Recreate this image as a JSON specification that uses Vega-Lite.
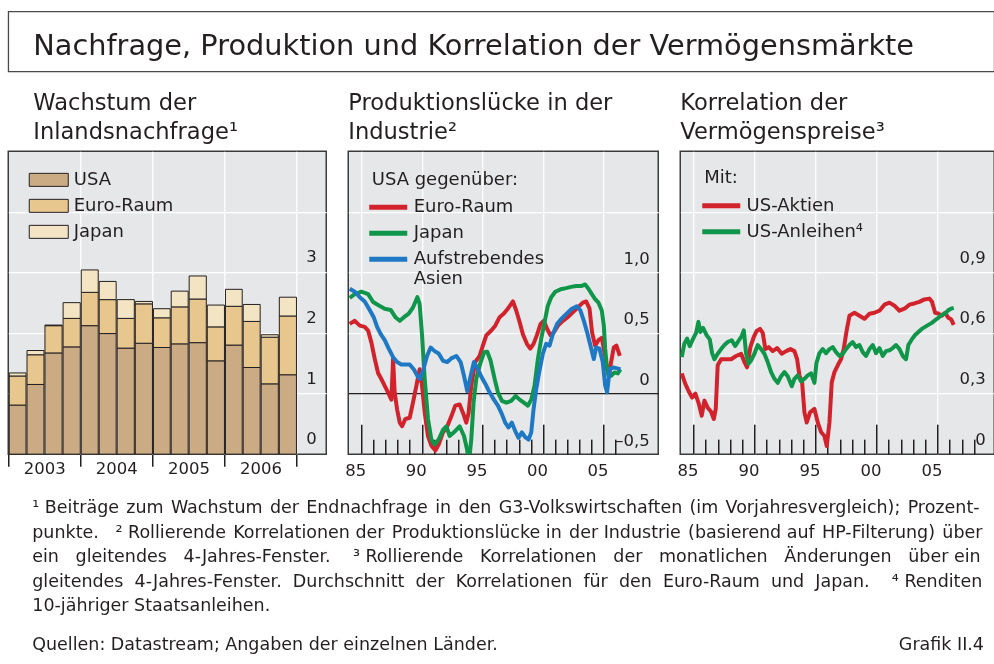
{
  "$schema": "https://vega.github.io/schema/vega-lite/v6.json",
  "padding": {"left": 6.25, "top": 10.35, "right": 0, "bottom": 0},
  "background": "white",
  "config": {
    "font": "DejaVu Sans",
    "view": {"fill": "#e6e7e8", "stroke": "#3c3c3c", "strokeWidth": 1.5},
    "axis": {"title": null, "domain": false, "labelFont": "DejaVu Sans", "labelFontSize": 16.5, "labelColor": "#231f20", "gridColor": "white", "gridWidth": 1.2, "tickColor": "#231f20", "tickWidth": 1.5, "labelFlush": false, "labelOverlap": false, "labelBound": false},
    "legend": {"padding": 0, "labelFont": "DejaVu Sans", "labelFontSize": 18, "labelColor": "#231f20", "titleFont": "DejaVu Sans", "titleFontSize": 18, "titleFontWeight": "normal", "titleColor": "#231f20", "rowPadding": 8, "titlePadding": 7.2},
    "title": {"font": "DejaVu Sans", "color": "#231f20", "fontWeight": "normal", "anchor": "start", "subtitleColor": "#231f20", "subtitleFont": "DejaVu Sans"}
  },
  "title": {"text": "Grafik II.4", "orient": "bottom", "anchor": "end", "fontSize": 17.5, "offset": -17.5, "dx": -11},
  "spacing": 18.8,
  "datasets": {
    "bars": [
      {"q": "2003-01-01", "r": "USA", "v": 0.81, "k": 1}, {"q": "2003-01-01", "r": "Euro-Raum", "v": 0.48, "k": 2}, {"q": "2003-01-01", "r": "Japan", "v": 0.05, "k": 3},
      {"q": "2003-04-01", "r": "USA", "v": 1.15, "k": 1}, {"q": "2003-04-01", "r": "Euro-Raum", "v": 0.49, "k": 2}, {"q": "2003-04-01", "r": "Japan", "v": 0.07, "k": 3},
      {"q": "2003-07-01", "r": "USA", "v": 1.67, "k": 1}, {"q": "2003-07-01", "r": "Euro-Raum", "v": 0.45, "k": 2}, {"q": "2003-07-01", "r": "Japan", "v": 0.01, "k": 3},
      {"q": "2003-10-01", "r": "USA", "v": 1.77, "k": 1}, {"q": "2003-10-01", "r": "Euro-Raum", "v": 0.47, "k": 2}, {"q": "2003-10-01", "r": "Japan", "v": 0.26, "k": 3},
      {"q": "2004-01-01", "r": "USA", "v": 2.12, "k": 1}, {"q": "2004-01-01", "r": "Euro-Raum", "v": 0.55, "k": 2}, {"q": "2004-01-01", "r": "Japan", "v": 0.37, "k": 3},
      {"q": "2004-04-01", "r": "USA", "v": 1.99, "k": 1}, {"q": "2004-04-01", "r": "Euro-Raum", "v": 0.56, "k": 2}, {"q": "2004-04-01", "r": "Japan", "v": 0.30, "k": 3},
      {"q": "2004-07-01", "r": "USA", "v": 1.75, "k": 1}, {"q": "2004-07-01", "r": "Euro-Raum", "v": 0.49, "k": 2}, {"q": "2004-07-01", "r": "Japan", "v": 0.31, "k": 3},
      {"q": "2004-10-01", "r": "USA", "v": 1.83, "k": 1}, {"q": "2004-10-01", "r": "Euro-Raum", "v": 0.65, "k": 2}, {"q": "2004-10-01", "r": "Japan", "v": 0.04, "k": 3},
      {"q": "2005-01-01", "r": "USA", "v": 1.76, "k": 1}, {"q": "2005-01-01", "r": "Euro-Raum", "v": 0.49, "k": 2}, {"q": "2005-01-01", "r": "Japan", "v": 0.15, "k": 3},
      {"q": "2005-04-01", "r": "USA", "v": 1.82, "k": 1}, {"q": "2005-04-01", "r": "Euro-Raum", "v": 0.61, "k": 2}, {"q": "2005-04-01", "r": "Japan", "v": 0.26, "k": 3},
      {"q": "2005-07-01", "r": "USA", "v": 1.84, "k": 1}, {"q": "2005-07-01", "r": "Euro-Raum", "v": 0.72, "k": 2}, {"q": "2005-07-01", "r": "Japan", "v": 0.38, "k": 3},
      {"q": "2005-10-01", "r": "USA", "v": 1.54, "k": 1}, {"q": "2005-10-01", "r": "Euro-Raum", "v": 0.56, "k": 2}, {"q": "2005-10-01", "r": "Japan", "v": 0.36, "k": 3},
      {"q": "2006-01-01", "r": "USA", "v": 1.80, "k": 1}, {"q": "2006-01-01", "r": "Euro-Raum", "v": 0.64, "k": 2}, {"q": "2006-01-01", "r": "Japan", "v": 0.28, "k": 3},
      {"q": "2006-04-01", "r": "USA", "v": 1.43, "k": 1}, {"q": "2006-04-01", "r": "Euro-Raum", "v": 0.76, "k": 2}, {"q": "2006-04-01", "r": "Japan", "v": 0.28, "k": 3},
      {"q": "2006-07-01", "r": "USA", "v": 1.16, "k": 1}, {"q": "2006-07-01", "r": "Euro-Raum", "v": 0.77, "k": 2}, {"q": "2006-07-01", "r": "Japan", "v": 0.04, "k": 3},
      {"q": "2006-10-01", "r": "USA", "v": 1.31, "k": 1}, {"q": "2006-10-01", "r": "Euro-Raum", "v": 0.97, "k": 2}, {"q": "2006-10-01", "r": "Japan", "v": 0.31, "k": 3}
    ],
    "gap": [
      {"s": "Euro-Raum", "t": 1985.05, "v": 0.575}, {"s": "Euro-Raum", "t": 1985.47, "v": 0.60}, {"s": "Euro-Raum", "t": 1985.88, "v": 0.56}, {"s": "Euro-Raum", "t": 1986.29, "v": 0.55}, {"s": "Euro-Raum", "t": 1986.57, "v": 0.52}, {"s": "Euro-Raum", "t": 1986.84, "v": 0.42}, {"s": "Euro-Raum", "t": 1987.12, "v": 0.285}, {"s": "Euro-Raum", "t": 1987.39, "v": 0.17}, {"s": "Euro-Raum", "t": 1987.66, "v": 0.12}, {"s": "Euro-Raum", "t": 1987.94, "v": 0.064}, {"s": "Euro-Raum", "t": 1988.21, "v": 0.01}, {"s": "Euro-Raum", "t": 1988.49, "v": -0.05}, {"s": "Euro-Raum", "t": 1988.63, "v": 0.285}, {"s": "Euro-Raum", "t": 1988.76, "v": 0.01}, {"s": "Euro-Raum", "t": 1988.96, "v": -0.13}, {"s": "Euro-Raum", "t": 1989.18, "v": -0.24}, {"s": "Euro-Raum", "t": 1989.37, "v": -0.27}, {"s": "Euro-Raum", "t": 1989.64, "v": -0.21}, {"s": "Euro-Raum", "t": 1990.0, "v": -0.2}, {"s": "Euro-Raum", "t": 1990.27, "v": -0.075}, {"s": "Euro-Raum", "t": 1990.55, "v": 0.064}, {"s": "Euro-Raum", "t": 1990.82, "v": 0.2}, {"s": "Euro-Raum", "t": 1991.02, "v": 0.064}, {"s": "Euro-Raum", "t": 1991.24, "v": -0.16}, {"s": "Euro-Raum", "t": 1991.51, "v": -0.35}, {"s": "Euro-Raum", "t": 1991.79, "v": -0.43}, {"s": "Euro-Raum", "t": 1992.12, "v": -0.47}, {"s": "Euro-Raum", "t": 1992.39, "v": -0.42}, {"s": "Euro-Raum", "t": 1992.75, "v": -0.32}, {"s": "Euro-Raum", "t": 1993.1, "v": -0.27}, {"s": "Euro-Raum", "t": 1993.43, "v": -0.19}, {"s": "Euro-Raum", "t": 1993.76, "v": -0.10}, {"s": "Euro-Raum", "t": 1994.12, "v": -0.09}, {"s": "Euro-Raum", "t": 1994.4, "v": -0.16}, {"s": "Euro-Raum", "t": 1994.67, "v": -0.24}, {"s": "Euro-Raum", "t": 1994.86, "v": -0.16}, {"s": "Euro-Raum", "t": 1995.08, "v": 0.064}, {"s": "Euro-Raum", "t": 1995.41, "v": 0.26}, {"s": "Euro-Raum", "t": 1995.77, "v": 0.31}, {"s": "Euro-Raum", "t": 1996.04, "v": 0.395}, {"s": "Euro-Raum", "t": 1996.32, "v": 0.48}, {"s": "Euro-Raum", "t": 1996.73, "v": 0.52}, {"s": "Euro-Raum", "t": 1997.06, "v": 0.56}, {"s": "Euro-Raum", "t": 1997.42, "v": 0.63}, {"s": "Euro-Raum", "t": 1997.77, "v": 0.66}, {"s": "Euro-Raum", "t": 1998.1, "v": 0.70}, {"s": "Euro-Raum", "t": 1998.52, "v": 0.76}, {"s": "Euro-Raum", "t": 1998.79, "v": 0.685}, {"s": "Euro-Raum", "t": 1999.07, "v": 0.59}, {"s": "Euro-Raum", "t": 1999.34, "v": 0.49}, {"s": "Euro-Raum", "t": 1999.67, "v": 0.41}, {"s": "Euro-Raum", "t": 1999.95, "v": 0.37}, {"s": "Euro-Raum", "t": 2000.22, "v": 0.41}, {"s": "Euro-Raum", "t": 2000.49, "v": 0.48}, {"s": "Euro-Raum", "t": 2000.8, "v": 0.575}, {"s": "Euro-Raum", "t": 2001.07, "v": 0.60}, {"s": "Euro-Raum", "t": 2001.35, "v": 0.53}, {"s": "Euro-Raum", "t": 2001.62, "v": 0.48}, {"s": "Euro-Raum", "t": 2001.9, "v": 0.505}, {"s": "Euro-Raum", "t": 2002.23, "v": 0.56}, {"s": "Euro-Raum", "t": 2002.64, "v": 0.60}, {"s": "Euro-Raum", "t": 2003.05, "v": 0.63}, {"s": "Euro-Raum", "t": 2003.46, "v": 0.67}, {"s": "Euro-Raum", "t": 2003.87, "v": 0.71}, {"s": "Euro-Raum", "t": 2004.29, "v": 0.75}, {"s": "Euro-Raum", "t": 2004.56, "v": 0.76}, {"s": "Euro-Raum", "t": 2004.84, "v": 0.70}, {"s": "Euro-Raum", "t": 2005.05, "v": 0.505}, {"s": "Euro-Raum", "t": 2005.3, "v": 0.395}, {"s": "Euro-Raum", "t": 2005.58, "v": 0.44}, {"s": "Euro-Raum", "t": 2005.85, "v": 0.46}, {"s": "Euro-Raum", "t": 2006.07, "v": 0.34}, {"s": "Euro-Raum", "t": 2006.29, "v": 0.20}, {"s": "Euro-Raum", "t": 2006.46, "v": 0.146}, {"s": "Euro-Raum", "t": 2006.62, "v": 0.26}, {"s": "Euro-Raum", "t": 2006.84, "v": 0.38}, {"s": "Euro-Raum", "t": 2007.06, "v": 0.395}, {"s": "Euro-Raum", "t": 2007.34, "v": 0.31},
      {"s": "Japan", "t": 1985.05, "v": 0.79}, {"s": "Japan", "t": 1985.47, "v": 0.82}, {"s": "Japan", "t": 1986.02, "v": 0.84}, {"s": "Japan", "t": 1986.57, "v": 0.82}, {"s": "Japan", "t": 1986.98, "v": 0.755}, {"s": "Japan", "t": 1987.39, "v": 0.73}, {"s": "Japan", "t": 1987.94, "v": 0.70}, {"s": "Japan", "t": 1988.43, "v": 0.69}, {"s": "Japan", "t": 1988.82, "v": 0.63}, {"s": "Japan", "t": 1989.18, "v": 0.60}, {"s": "Japan", "t": 1989.53, "v": 0.63}, {"s": "Japan", "t": 1989.92, "v": 0.66}, {"s": "Japan", "t": 1990.27, "v": 0.71}, {"s": "Japan", "t": 1990.63, "v": 0.795}, {"s": "Japan", "t": 1990.82, "v": 0.74}, {"s": "Japan", "t": 1991.02, "v": 0.48}, {"s": "Japan", "t": 1991.24, "v": 0.12}, {"s": "Japan", "t": 1991.51, "v": -0.21}, {"s": "Japan", "t": 1991.79, "v": -0.38}, {"s": "Japan", "t": 1992.06, "v": -0.42}, {"s": "Japan", "t": 1992.39, "v": -0.38}, {"s": "Japan", "t": 1992.75, "v": -0.30}, {"s": "Japan", "t": 1993.02, "v": -0.27}, {"s": "Japan", "t": 1993.3, "v": -0.35}, {"s": "Japan", "t": 1993.65, "v": -0.32}, {"s": "Japan", "t": 1994.12, "v": -0.27}, {"s": "Japan", "t": 1994.48, "v": -0.35}, {"s": "Japan", "t": 1994.73, "v": -0.46}, {"s": "Japan", "t": 1994.89, "v": -0.57}, {"s": "Japan", "t": 1995.08, "v": -0.38}, {"s": "Japan", "t": 1995.27, "v": -0.075}, {"s": "Japan", "t": 1995.49, "v": 0.12}, {"s": "Japan", "t": 1995.77, "v": 0.23}, {"s": "Japan", "t": 1996.13, "v": 0.34}, {"s": "Japan", "t": 1996.4, "v": 0.345}, {"s": "Japan", "t": 1996.68, "v": 0.27}, {"s": "Japan", "t": 1997.01, "v": 0.12}, {"s": "Japan", "t": 1997.28, "v": 0.01}, {"s": "Japan", "t": 1997.61, "v": -0.06}, {"s": "Japan", "t": 1997.97, "v": -0.075}, {"s": "Japan", "t": 1998.38, "v": -0.06}, {"s": "Japan", "t": 1998.74, "v": -0.02}, {"s": "Japan", "t": 1999.07, "v": -0.05}, {"s": "Japan", "t": 1999.42, "v": -0.075}, {"s": "Japan", "t": 1999.75, "v": -0.10}, {"s": "Japan", "t": 2000.03, "v": -0.05}, {"s": "Japan", "t": 2000.3, "v": 0.064}, {"s": "Japan", "t": 2000.58, "v": 0.285}, {"s": "Japan", "t": 2000.85, "v": 0.45}, {"s": "Japan", "t": 2001.13, "v": 0.59}, {"s": "Japan", "t": 2001.4, "v": 0.725}, {"s": "Japan", "t": 2001.68, "v": 0.795}, {"s": "Japan", "t": 2002.01, "v": 0.84}, {"s": "Japan", "t": 2002.45, "v": 0.86}, {"s": "Japan", "t": 2002.91, "v": 0.87}, {"s": "Japan", "t": 2003.32, "v": 0.88}, {"s": "Japan", "t": 2003.74, "v": 0.887}, {"s": "Japan", "t": 2004.15, "v": 0.887}, {"s": "Japan", "t": 2004.48, "v": 0.90}, {"s": "Japan", "t": 2004.75, "v": 0.865}, {"s": "Japan", "t": 2005.03, "v": 0.82}, {"s": "Japan", "t": 2005.3, "v": 0.78}, {"s": "Japan", "t": 2005.58, "v": 0.75}, {"s": "Japan", "t": 2005.85, "v": 0.685}, {"s": "Japan", "t": 2006.02, "v": 0.56}, {"s": "Japan", "t": 2006.13, "v": 0.37}, {"s": "Japan", "t": 2006.26, "v": 0.23}, {"s": "Japan", "t": 2006.4, "v": 0.146}, {"s": "Japan", "t": 2006.62, "v": 0.146}, {"s": "Japan", "t": 2006.9, "v": 0.174}, {"s": "Japan", "t": 2007.17, "v": 0.166}, {"s": "Japan", "t": 2007.39, "v": 0.20},
      {"s": "Aufstrebendes Asien", "t": 1985.05, "v": 0.865}, {"s": "Aufstrebendes Asien", "t": 1985.47, "v": 0.84}, {"s": "Aufstrebendes Asien", "t": 1985.88, "v": 0.795}, {"s": "Aufstrebendes Asien", "t": 1986.29, "v": 0.76}, {"s": "Aufstrebendes Asien", "t": 1986.7, "v": 0.69}, {"s": "Aufstrebendes Asien", "t": 1987.03, "v": 0.63}, {"s": "Aufstrebendes Asien", "t": 1987.31, "v": 0.55}, {"s": "Aufstrebendes Asien", "t": 1987.61, "v": 0.49}, {"s": "Aufstrebendes Asien", "t": 1987.94, "v": 0.44}, {"s": "Aufstrebendes Asien", "t": 1988.27, "v": 0.37}, {"s": "Aufstrebendes Asien", "t": 1988.63, "v": 0.30}, {"s": "Aufstrebendes Asien", "t": 1988.96, "v": 0.26}, {"s": "Aufstrebendes Asien", "t": 1989.31, "v": 0.24}, {"s": "Aufstrebendes Asien", "t": 1989.64, "v": 0.24}, {"s": "Aufstrebendes Asien", "t": 1990.0, "v": 0.24}, {"s": "Aufstrebendes Asien", "t": 1990.36, "v": 0.196}, {"s": "Aufstrebendes Asien", "t": 1990.63, "v": 0.146}, {"s": "Aufstrebendes Asien", "t": 1990.85, "v": 0.12}, {"s": "Aufstrebendes Asien", "t": 1991.13, "v": 0.20}, {"s": "Aufstrebendes Asien", "t": 1991.43, "v": 0.31}, {"s": "Aufstrebendes Asien", "t": 1991.73, "v": 0.38}, {"s": "Aufstrebendes Asien", "t": 1992.06, "v": 0.35}, {"s": "Aufstrebendes Asien", "t": 1992.39, "v": 0.33}, {"s": "Aufstrebendes Asien", "t": 1992.75, "v": 0.27}, {"s": "Aufstrebendes Asien", "t": 1993.1, "v": 0.26}, {"s": "Aufstrebendes Asien", "t": 1993.43, "v": 0.29}, {"s": "Aufstrebendes Asien", "t": 1993.85, "v": 0.31}, {"s": "Aufstrebendes Asien", "t": 1994.2, "v": 0.26}, {"s": "Aufstrebendes Asien", "t": 1994.48, "v": 0.146}, {"s": "Aufstrebendes Asien", "t": 1994.75, "v": 0.02}, {"s": "Aufstrebendes Asien", "t": 1995.03, "v": 0.146}, {"s": "Aufstrebendes Asien", "t": 1995.3, "v": 0.26}, {"s": "Aufstrebendes Asien", "t": 1995.63, "v": 0.20}, {"s": "Aufstrebendes Asien", "t": 1995.96, "v": 0.13}, {"s": "Aufstrebendes Asien", "t": 1996.26, "v": 0.077}, {"s": "Aufstrebendes Asien", "t": 1996.59, "v": 0.01}, {"s": "Aufstrebendes Asien", "t": 1996.95, "v": -0.05}, {"s": "Aufstrebendes Asien", "t": 1997.28, "v": -0.10}, {"s": "Aufstrebendes Asien", "t": 1997.61, "v": -0.17}, {"s": "Aufstrebendes Asien", "t": 1997.88, "v": -0.24}, {"s": "Aufstrebendes Asien", "t": 1998.16, "v": -0.28}, {"s": "Aufstrebendes Asien", "t": 1998.43, "v": -0.24}, {"s": "Aufstrebendes Asien", "t": 1998.71, "v": -0.31}, {"s": "Aufstrebendes Asien", "t": 1998.98, "v": -0.365}, {"s": "Aufstrebendes Asien", "t": 1999.26, "v": -0.32}, {"s": "Aufstrebendes Asien", "t": 1999.53, "v": -0.36}, {"s": "Aufstrebendes Asien", "t": 1999.81, "v": -0.38}, {"s": "Aufstrebendes Asien", "t": 2000.03, "v": -0.32}, {"s": "Aufstrebendes Asien", "t": 2000.22, "v": -0.13}, {"s": "Aufstrebendes Asien", "t": 2000.44, "v": 0.036}, {"s": "Aufstrebendes Asien", "t": 2000.71, "v": 0.19}, {"s": "Aufstrebendes Asien", "t": 2000.99, "v": 0.33}, {"s": "Aufstrebendes Asien", "t": 2001.26, "v": 0.41}, {"s": "Aufstrebendes Asien", "t": 2001.54, "v": 0.395}, {"s": "Aufstrebendes Asien", "t": 2001.81, "v": 0.49}, {"s": "Aufstrebendes Asien", "t": 2002.17, "v": 0.575}, {"s": "Aufstrebendes Asien", "t": 2002.55, "v": 0.62}, {"s": "Aufstrebendes Asien", "t": 2002.97, "v": 0.66}, {"s": "Aufstrebendes Asien", "t": 2003.38, "v": 0.70}, {"s": "Aufstrebendes Asien", "t": 2003.79, "v": 0.72}, {"s": "Aufstrebendes Asien", "t": 2004.09, "v": 0.685}, {"s": "Aufstrebendes Asien", "t": 2004.37, "v": 0.60}, {"s": "Aufstrebendes Asien", "t": 2004.64, "v": 0.505}, {"s": "Aufstrebendes Asien", "t": 2004.92, "v": 0.395}, {"s": "Aufstrebendes Asien", "t": 2005.19, "v": 0.285}, {"s": "Aufstrebendes Asien", "t": 2005.38, "v": 0.38}, {"s": "Aufstrebendes Asien", "t": 2005.66, "v": 0.37}, {"s": "Aufstrebendes Asien", "t": 2005.93, "v": 0.26}, {"s": "Aufstrebendes Asien", "t": 2006.13, "v": 0.064}, {"s": "Aufstrebendes Asien", "t": 2006.29, "v": 0.01}, {"s": "Aufstrebendes Asien", "t": 2006.51, "v": 0.20}, {"s": "Aufstrebendes Asien", "t": 2006.79, "v": 0.215}, {"s": "Aufstrebendes Asien", "t": 2007.06, "v": 0.21}, {"s": "Aufstrebendes Asien", "t": 2007.39, "v": 0.20}
    ],
    "corr": [
      {"s": "US-Aktien", "t": 1985.04, "v": 0.40}, {"s": "US-Aktien", "t": 1985.32, "v": 0.35}, {"s": "US-Aktien", "t": 1985.62, "v": 0.31}, {"s": "US-Aktien", "t": 1985.89, "v": 0.28}, {"s": "US-Aktien", "t": 1986.16, "v": 0.30}, {"s": "US-Aktien", "t": 1986.44, "v": 0.25}, {"s": "US-Aktien", "t": 1986.68, "v": 0.19}, {"s": "US-Aktien", "t": 1986.9, "v": 0.265}, {"s": "US-Aktien", "t": 1987.17, "v": 0.23}, {"s": "US-Aktien", "t": 1987.45, "v": 0.21}, {"s": "US-Aktien", "t": 1987.67, "v": 0.174}, {"s": "US-Aktien", "t": 1987.83, "v": 0.224}, {"s": "US-Aktien", "t": 1987.99, "v": 0.44}, {"s": "US-Aktien", "t": 1988.27, "v": 0.47}, {"s": "US-Aktien", "t": 1988.68, "v": 0.47}, {"s": "US-Aktien", "t": 1989.09, "v": 0.47}, {"s": "US-Aktien", "t": 1989.5, "v": 0.486}, {"s": "US-Aktien", "t": 1989.91, "v": 0.497}, {"s": "US-Aktien", "t": 1990.18, "v": 0.456}, {"s": "US-Aktien", "t": 1990.4, "v": 0.43}, {"s": "US-Aktien", "t": 1990.67, "v": 0.53}, {"s": "US-Aktien", "t": 1990.95, "v": 0.58}, {"s": "US-Aktien", "t": 1991.19, "v": 0.61}, {"s": "US-Aktien", "t": 1991.46, "v": 0.62}, {"s": "US-Aktien", "t": 1991.68, "v": 0.60}, {"s": "US-Aktien", "t": 1991.9, "v": 0.52}, {"s": "US-Aktien", "t": 1992.17, "v": 0.53}, {"s": "US-Aktien", "t": 1992.5, "v": 0.51}, {"s": "US-Aktien", "t": 1992.86, "v": 0.525}, {"s": "US-Aktien", "t": 1993.24, "v": 0.497}, {"s": "US-Aktien", "t": 1993.6, "v": 0.51}, {"s": "US-Aktien", "t": 1993.95, "v": 0.52}, {"s": "US-Aktien", "t": 1994.28, "v": 0.51}, {"s": "US-Aktien", "t": 1994.5, "v": 0.47}, {"s": "US-Aktien", "t": 1994.69, "v": 0.39}, {"s": "US-Aktien", "t": 1994.91, "v": 0.356}, {"s": "US-Aktien", "t": 1995.1, "v": 0.207}, {"s": "US-Aktien", "t": 1995.29, "v": 0.157}, {"s": "US-Aktien", "t": 1995.56, "v": 0.207}, {"s": "US-Aktien", "t": 1995.92, "v": 0.224}, {"s": "US-Aktien", "t": 1996.19, "v": 0.157}, {"s": "US-Aktien", "t": 1996.46, "v": 0.11}, {"s": "US-Aktien", "t": 1996.74, "v": 0.09}, {"s": "US-Aktien", "t": 1996.93, "v": 0.04}, {"s": "US-Aktien", "t": 1997.15, "v": 0.157}, {"s": "US-Aktien", "t": 1997.34, "v": 0.356}, {"s": "US-Aktien", "t": 1997.56, "v": 0.406}, {"s": "US-Aktien", "t": 1997.83, "v": 0.44}, {"s": "US-Aktien", "t": 1998.1, "v": 0.47}, {"s": "US-Aktien", "t": 1998.32, "v": 0.52}, {"s": "US-Aktien", "t": 1998.54, "v": 0.605}, {"s": "US-Aktien", "t": 1998.79, "v": 0.685}, {"s": "US-Aktien", "t": 1999.2, "v": 0.70}, {"s": "US-Aktien", "t": 1999.61, "v": 0.685}, {"s": "US-Aktien", "t": 2000.02, "v": 0.67}, {"s": "US-Aktien", "t": 2000.43, "v": 0.695}, {"s": "US-Aktien", "t": 2000.84, "v": 0.70}, {"s": "US-Aktien", "t": 2001.25, "v": 0.71}, {"s": "US-Aktien", "t": 2001.66, "v": 0.74}, {"s": "US-Aktien", "t": 2002.07, "v": 0.75}, {"s": "US-Aktien", "t": 2002.48, "v": 0.735}, {"s": "US-Aktien", "t": 2002.89, "v": 0.71}, {"s": "US-Aktien", "t": 2003.3, "v": 0.72}, {"s": "US-Aktien", "t": 2003.7, "v": 0.74}, {"s": "US-Aktien", "t": 2004.11, "v": 0.746}, {"s": "US-Aktien", "t": 2004.52, "v": 0.754}, {"s": "US-Aktien", "t": 2004.93, "v": 0.766}, {"s": "US-Aktien", "t": 2005.34, "v": 0.77}, {"s": "US-Aktien", "t": 2005.56, "v": 0.754}, {"s": "US-Aktien", "t": 2005.81, "v": 0.70}, {"s": "US-Aktien", "t": 2006.08, "v": 0.696}, {"s": "US-Aktien", "t": 2006.36, "v": 0.685}, {"s": "US-Aktien", "t": 2006.63, "v": 0.70}, {"s": "US-Aktien", "t": 2006.9, "v": 0.675}, {"s": "US-Aktien", "t": 2007.12, "v": 0.668}, {"s": "US-Aktien", "t": 2007.34, "v": 0.64},
      {"s": "US-Anleihen⁴", "t": 1985.04, "v": 0.48}, {"s": "US-Anleihen⁴", "t": 1985.26, "v": 0.547}, {"s": "US-Anleihen⁴", "t": 1985.48, "v": 0.572}, {"s": "US-Anleihen⁴", "t": 1985.7, "v": 0.535}, {"s": "US-Anleihen⁴", "t": 1985.95, "v": 0.568}, {"s": "US-Anleihen⁴", "t": 1986.22, "v": 0.60}, {"s": "US-Anleihen⁴", "t": 1986.41, "v": 0.655}, {"s": "US-Anleihen⁴", "t": 1986.57, "v": 0.605}, {"s": "US-Anleihen⁴", "t": 1986.79, "v": 0.625}, {"s": "US-Anleihen⁴", "t": 1987.07, "v": 0.59}, {"s": "US-Anleihen⁴", "t": 1987.34, "v": 0.568}, {"s": "US-Anleihen⁴", "t": 1987.53, "v": 0.50}, {"s": "US-Anleihen⁴", "t": 1987.72, "v": 0.47}, {"s": "US-Anleihen⁴", "t": 1987.99, "v": 0.497}, {"s": "US-Anleihen⁴", "t": 1988.27, "v": 0.52}, {"s": "US-Anleihen⁴", "t": 1988.54, "v": 0.54}, {"s": "US-Anleihen⁴", "t": 1988.81, "v": 0.555}, {"s": "US-Anleihen⁴", "t": 1989.14, "v": 0.564}, {"s": "US-Anleihen⁴", "t": 1989.42, "v": 0.535}, {"s": "US-Anleihen⁴", "t": 1989.69, "v": 0.56}, {"s": "US-Anleihen⁴", "t": 1989.96, "v": 0.585}, {"s": "US-Anleihen⁴", "t": 1990.13, "v": 0.613}, {"s": "US-Anleihen⁴", "t": 1990.32, "v": 0.497}, {"s": "US-Anleihen⁴", "t": 1990.51, "v": 0.447}, {"s": "US-Anleihen⁴", "t": 1990.73, "v": 0.464}, {"s": "US-Anleihen⁴", "t": 1991.0, "v": 0.497}, {"s": "US-Anleihen⁴", "t": 1991.27, "v": 0.54}, {"s": "US-Anleihen⁴", "t": 1991.55, "v": 0.52}, {"s": "US-Anleihen⁴", "t": 1991.82, "v": 0.497}, {"s": "US-Anleihen⁴", "t": 1992.09, "v": 0.456}, {"s": "US-Anleihen⁴", "t": 1992.37, "v": 0.406}, {"s": "US-Anleihen⁴", "t": 1992.64, "v": 0.373}, {"s": "US-Anleihen⁴", "t": 1992.91, "v": 0.353}, {"s": "US-Anleihen⁴", "t": 1993.19, "v": 0.386}, {"s": "US-Anleihen⁴", "t": 1993.46, "v": 0.406}, {"s": "US-Anleihen⁴", "t": 1993.73, "v": 0.386}, {"s": "US-Anleihen⁴", "t": 1994.06, "v": 0.336}, {"s": "US-Anleihen⁴", "t": 1994.28, "v": 0.373}, {"s": "US-Anleihen⁴", "t": 1994.55, "v": 0.39}, {"s": "US-Anleihen⁴", "t": 1994.83, "v": 0.36}, {"s": "US-Anleihen⁴", "t": 1995.1, "v": 0.373}, {"s": "US-Anleihen⁴", "t": 1995.37, "v": 0.39}, {"s": "US-Anleihen⁴", "t": 1995.64, "v": 0.40}, {"s": "US-Anleihen⁴", "t": 1995.92, "v": 0.353}, {"s": "US-Anleihen⁴", "t": 1996.08, "v": 0.45}, {"s": "US-Anleihen⁴", "t": 1996.33, "v": 0.50}, {"s": "US-Anleihen⁴", "t": 1996.6, "v": 0.52}, {"s": "US-Anleihen⁴", "t": 1996.87, "v": 0.50}, {"s": "US-Anleihen⁴", "t": 1997.15, "v": 0.52}, {"s": "US-Anleihen⁴", "t": 1997.42, "v": 0.53}, {"s": "US-Anleihen⁴", "t": 1997.69, "v": 0.505}, {"s": "US-Anleihen⁴", "t": 1997.97, "v": 0.486}, {"s": "US-Anleihen⁴", "t": 1998.24, "v": 0.497}, {"s": "US-Anleihen⁴", "t": 1998.51, "v": 0.52}, {"s": "US-Anleihen⁴", "t": 1998.79, "v": 0.54}, {"s": "US-Anleihen⁴", "t": 1999.06, "v": 0.555}, {"s": "US-Anleihen⁴", "t": 1999.33, "v": 0.53}, {"s": "US-Anleihen⁴", "t": 1999.61, "v": 0.54}, {"s": "US-Anleihen⁴", "t": 1999.88, "v": 0.505}, {"s": "US-Anleihen⁴", "t": 2000.15, "v": 0.486}, {"s": "US-Anleihen⁴", "t": 2000.43, "v": 0.52}, {"s": "US-Anleihen⁴", "t": 2000.7, "v": 0.54}, {"s": "US-Anleihen⁴", "t": 2000.97, "v": 0.50}, {"s": "US-Anleihen⁴", "t": 2001.25, "v": 0.525}, {"s": "US-Anleihen⁴", "t": 2001.52, "v": 0.486}, {"s": "US-Anleihen⁴", "t": 2001.79, "v": 0.51}, {"s": "US-Anleihen⁴", "t": 2002.07, "v": 0.514}, {"s": "US-Anleihen⁴", "t": 2002.34, "v": 0.525}, {"s": "US-Anleihen⁴", "t": 2002.61, "v": 0.54}, {"s": "US-Anleihen⁴", "t": 2002.89, "v": 0.52}, {"s": "US-Anleihen⁴", "t": 2003.16, "v": 0.486}, {"s": "US-Anleihen⁴", "t": 2003.43, "v": 0.47}, {"s": "US-Anleihen⁴", "t": 2003.62, "v": 0.54}, {"s": "US-Anleihen⁴", "t": 2003.9, "v": 0.568}, {"s": "US-Anleihen⁴", "t": 2004.17, "v": 0.59}, {"s": "US-Anleihen⁴", "t": 2004.44, "v": 0.605}, {"s": "US-Anleihen⁴", "t": 2004.72, "v": 0.62}, {"s": "US-Anleihen⁴", "t": 2004.99, "v": 0.63}, {"s": "US-Anleihen⁴", "t": 2005.26, "v": 0.64}, {"s": "US-Anleihen⁴", "t": 2005.54, "v": 0.65}, {"s": "US-Anleihen⁴", "t": 2005.81, "v": 0.663}, {"s": "US-Anleihen⁴", "t": 2006.08, "v": 0.675}, {"s": "US-Anleihen⁴", "t": 2006.36, "v": 0.69}, {"s": "US-Anleihen⁴", "t": 2006.63, "v": 0.696}, {"s": "US-Anleihen⁴", "t": 2006.9, "v": 0.713}, {"s": "US-Anleihen⁴", "t": 2007.12, "v": 0.72}, {"s": "US-Anleihen⁴", "t": 2007.34, "v": 0.724}
    ]
  },
  "vconcat": [
    {
      "width": 986,
      "height": 60,
      "view": {"fill": "white", "stroke": "#4a4a4a", "strokeWidth": 1.3},
      "title": {"text": "Nachfrage, Produktion und Korrelation der Vermögensmärkte", "fontSize": 28.8, "anchor": "start", "frame": "group", "offset": -49, "dx": 25},
      "data": {"values": [{}]},
      "mark": {"type": "text"},
      "encoding": {"text": {"value": ""}}
    },
    {
      "spacing": 22,
      "bounds": "flush",
      "resolve": {"scale": {"color": "independent"}, "legend": {"color": "independent"}},
      "title": {
        "text": [
          "¹ Beiträge \u200azum \u200aWachstum \u200ader \u200aEndnachfrage \u200ain \u200aden \u200aG3-Volkswirtschaften \u200a(im \u200aVorjahresvergleich); \u200aProzent-",
          "punkte.\u00a0\u00a0\u00a0² Rollierende \u200aKorrelationen der \u200aProduktionslücke in \u200ader Industrie \u200a(basierend auf \u200aHP-Filterung) \u200aüber",
          "ein\u00a0\u00a0 gleitendes\u00a0\u00a0 4-Jahres-Fenster.\u00a0\u00a0\u00a0\u00a0³ Rollierende\u00a0\u00a0 Korrelationen\u00a0\u00a0 der\u00a0\u00a0 monatlichen\u00a0\u00a0 Änderungen\u00a0\u00a0 über ein",
          "gleitendes\u00a0 4-Jahres-Fenster.\u00a0 Durchschnitt\u00a0 der\u00a0 Korrelationen\u00a0 für\u00a0 den\u00a0 Euro-Raum\u00a0 und\u00a0 Japan.\u00a0\u00a0\u00a0\u00a0⁴ Renditen",
          "10-jähriger Staatsanleihen."
        ],
        "subtitle": "Quellen: Datastream; Angaben der einzelnen Länder.",
        "orient": "bottom", "anchor": "start", "frame": "group",
        "fontSize": 17.5, "lineHeight": 24.5, "subtitleFontSize": 17.5, "subtitlePadding": 21.5,
        "offset": 4, "dx": 24
      },
      "hconcat": [
        {
          "width": 318,
          "height": 303,
          "title": {"text": ["Wachstum der", "Inlandsnachfrage¹"], "fontSize": 22.6, "lineHeight": 28.4, "anchor": "start", "frame": "group", "offset": 7.8, "dx": 25},
          "data": {"name": "bars"},
          "mark": {"type": "bar", "stroke": "#231f20", "strokeWidth": 1, "width": {"band": 1}},
          "encoding": {
            "x": {
              "field": "q", "type": "temporal", "timeUnit": "utcyearquarter",
              "scale": {"type": "utc", "domain": [{"year": 2003, "month": 1, "date": 1, "utc": true}, {"year": 2007, "month": 6, "date": 1, "utc": true}]},
              "axis": {
                "values": [{"year": 2003, "month": 1, "date": 1, "utc": true}, {"year": 2004, "month": 1, "date": 1, "utc": true}, {"year": 2005, "month": 1, "date": 1, "utc": true}, {"year": 2006, "month": 1, "date": 1, "utc": true}, {"year": 2007, "month": 1, "date": 1, "utc": true}],
                "labelExpr": "utcyear(datum.value) < 2007 ? utcFormat(datum.value, '%Y') : ''",
                "labelOffset": 36, "labelAlign": "center", "tickSize": 12, "labelPadding": -5.3,
                "gridOpacity": {"condition": {"test": "utcyear(datum.value) == 2003", "value": 0}, "value": 1}
              }
            },
            "y": {
              "field": "v", "type": "quantitative", "stack": "zero",
              "scale": {"domain": [0, 5], "nice": false},
              "axis": {
                "orient": "right", "values": [0, 1, 2, 3, 4], "ticks": false, "labelPadding": -10, "labelAlign": "right", "labelBaseline": "middle", "labelOffset": -15.5,
                "labelExpr": "datum.value > 3 ? '' : datum.label",
                "gridOpacity": {"condition": {"test": "datum.value == 0", "value": 0}, "value": 1}
              }
            },
            "color": {
              "field": "r", "type": "nominal",
              "scale": {"domain": ["USA", "Euro-Raum", "Japan"], "range": ["#cbab84", "#e7c78e", "#f3e5c3"]},
              "legend": {"title": null, "orient": "none", "legendX": 22, "legendY": 19.7, "symbolType": "M-3,-1H3V1H-3Z", "symbolSize": 169, "symbolStrokeColor": "#231f20", "symbolStrokeWidth": 1, "symbolOffset": 9.5, "labelOffset": 16}
            },
            "order": {"field": "k", "type": "quantitative"}
          }
        },
        {
          "width": 310,
          "height": 303,
          "title": {"text": ["Produktionslücke in der", "Industrie²"], "fontSize": 22.6, "lineHeight": 28.4, "anchor": "start", "frame": "group", "offset": 7.8},
          "data": {"name": "gap"},
          "mark": {"type": "line", "strokeWidth": 4, "clip": true, "blend": "multiply", "strokeJoin": "round"},
          "encoding": {
            "x": {
              "field": "t", "type": "quantitative",
              "scale": {"domain": [1984.93, 2010.51], "nice": false, "zero": false},
              "axis": {
                "values": [1986, 1987, 1988, 1989, 1990, 1991, 1992, 1993, 1994, 1995, 1996, 1997, 1998, 1999, 2000, 2001, 2002, 2003, 2004, 2005, 2006, 2007],
                "tickSize": {"condition": {"test": "(datum.value - 1986) % 5 == 0", "value": -30}, "value": -15},
                "labelPadding": 38.7, "labelOffset": -6, "labelAlign": "center",
                "labelExpr": "(datum.value - 1986) % 5 == 0 ? slice(toString(datum.value - 1), 2) : ''",
                "gridOpacity": {"condition": {"test": "(datum.value - 1986) % 5 == 0", "value": 1}, "value": 0}
              }
            },
            "y": {
              "field": "v", "type": "quantitative",
              "scale": {"domain": [-0.5, 2.0], "nice": false, "zero": false},
              "axis": {
                "orient": "right", "values": [-0.5, 0, 0.5, 1, 1.5], "ticks": false, "labelPadding": -9, "labelAlign": "right", "labelBaseline": "middle", "labelOffset": -14,
                "labelExpr": "datum.value == -0.5 ? '–0,5' : datum.value == 0 ? '0' : datum.value == 0.5 ? '0,5' : datum.value == 1 ? '1,0' : ''",
                "gridOpacity": {"condition": {"test": "datum.value == -0.5", "value": 0}, "value": 1},
                "gridColor": {"condition": {"test": "datum.value == 0", "value": "#231f20"}, "value": "white"},
                "gridWidth": {"condition": {"test": "datum.value == 0", "value": 1.3}, "value": 1.2}
              }
            },
            "color": {
              "field": "s", "type": "nominal",
              "scale": {"domain": ["Euro-Raum", "Japan", "Aufstrebendes Asien"], "range": ["#d2232d", "#10964a", "#1f78c4"]},
              "legend": {"title": "USA gegenüber:", "orient": "none", "legendX": 23.5, "legendY": 20.3, "titlePadding": 8.7, "rowPadding": 6, "symbolType": "M-3.8,0H3.8", "symbolSize": 100, "symbolStrokeWidth": 5, "symbolOffset": 7.5, "labelOffset": 16.5,
                "labelExpr": "datum.label == 'Aufstrebendes Asien' ? ['Aufstrebendes', 'Asien'] : datum.label"}
            }
          }
        },
        {
          "width": 314,
          "height": 303,
          "title": {"text": ["Korrelation der", "Vermögenspreise³"], "fontSize": 22.6, "lineHeight": 28.4, "anchor": "start", "frame": "group", "offset": 7.8},
          "data": {"name": "corr"},
          "mark": {"type": "line", "strokeWidth": 4, "clip": true, "blend": "multiply", "strokeJoin": "round"},
          "encoding": {
            "x": {
              "field": "t", "type": "quantitative",
              "scale": {"domain": [1984.92, 2010.66], "nice": false, "zero": false},
              "axis": {
                "values": [1986, 1987, 1988, 1989, 1990, 1991, 1992, 1993, 1994, 1995, 1996, 1997, 1998, 1999, 2000, 2001, 2002, 2003, 2004, 2005, 2006, 2007, 2008, 2009],
                "tickSize": {"condition": {"test": "(datum.value - 1986) % 5 == 0", "value": -30}, "value": -15},
                "labelPadding": 38.7, "labelOffset": -6, "labelAlign": "center",
                "labelExpr": "(datum.value - 1986) % 5 == 0 ? slice(toString(datum.value - 1), 2) : ''",
                "gridOpacity": {"condition": {"test": "(datum.value - 1986) % 5 == 0", "value": 1}, "value": 0}
              }
            },
            "y": {
              "field": "v", "type": "quantitative",
              "scale": {"domain": [0, 1.5], "nice": false},
              "axis": {
                "orient": "right", "values": [0, 0.3, 0.6, 0.9, 1.2], "ticks": false, "labelPadding": -9, "labelAlign": "right", "labelBaseline": "middle", "labelOffset": -15,
                "labelExpr": "datum.value > 1 ? '' : datum.value == 0 ? '0' : replace(format(datum.value, '.1f'), '.', ',')",
                "gridOpacity": {"condition": {"test": "datum.value == 0", "value": 0}, "value": 1}
              }
            },
            "color": {
              "field": "s", "type": "nominal",
              "scale": {"domain": ["US-Aktien", "US-Anleihen⁴"], "range": ["#d2232d", "#10964a"]},
              "legend": {"title": "Mit:", "orient": "none", "legendX": 24, "legendY": 18.3, "titlePadding": 9.2, "rowPadding": 6, "symbolType": "M-3.8,0H3.8", "symbolSize": 100, "symbolStrokeWidth": 5, "symbolOffset": 8, "labelOffset": 16.3}
            }
          }
        }
      ]
    }
  ]
}
